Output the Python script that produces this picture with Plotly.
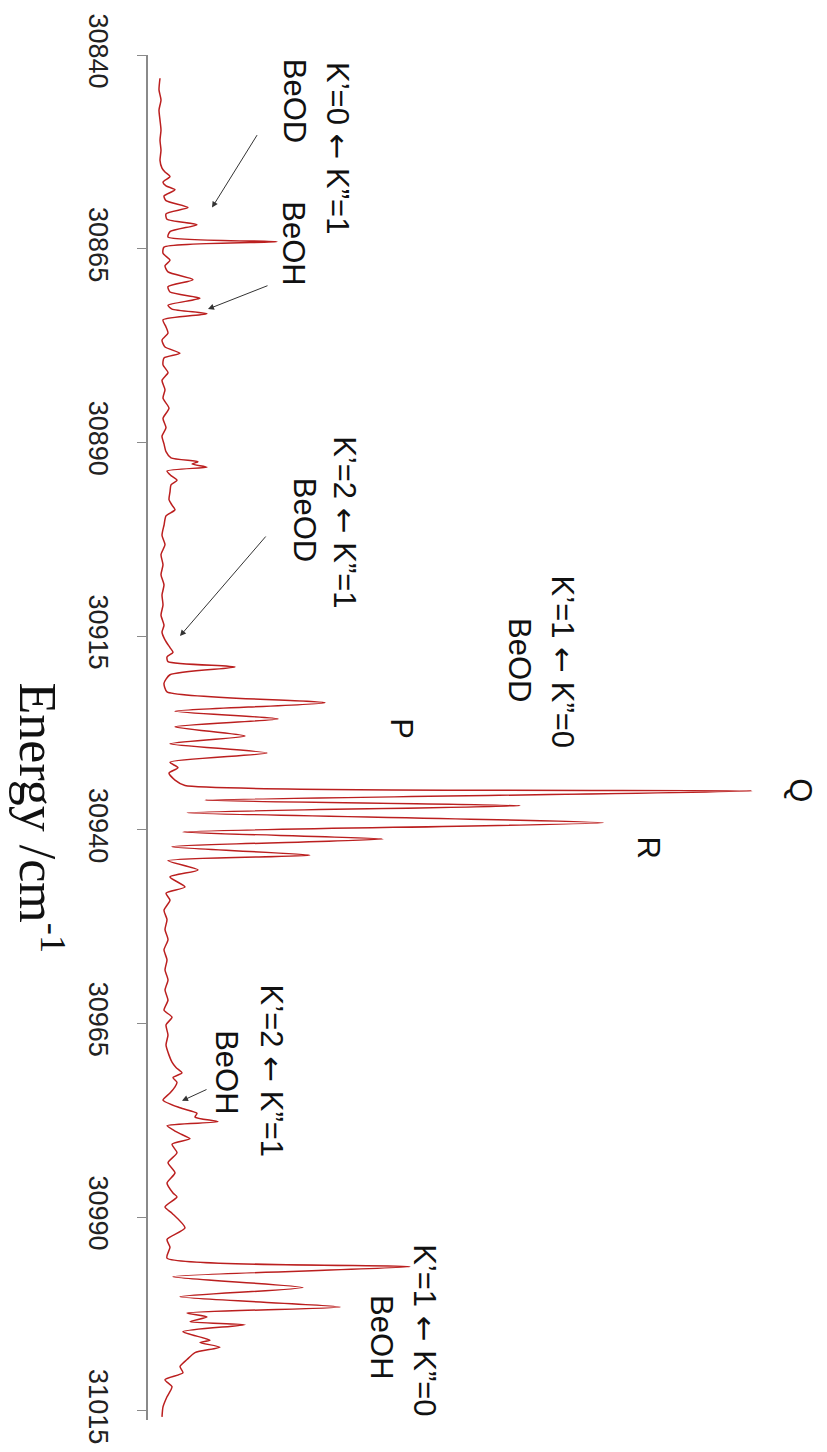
import plotly.graph_objects as go

# Energy (cm^-1) and intensity (arbitrary units)
energy = [
    30843.0, 30844.5, 30845.8, 30847.1, 30848.4, 30849.7, 30851.0, 30852.3, 30853.6, 30854.6,
    30855.1, 30855.7, 30856.4, 30856.9, 30857.4, 30858.2, 30858.8, 30859.7, 30860.5, 30861.2,
    30861.9, 30862.8, 30863.5, 30864.1, 30864.8, 30865.6, 30866.5, 30867.2, 30868.0, 30869.0,
    30869.9, 30870.6, 30871.4, 30872.3, 30872.8, 30873.4, 30874.2, 30875.1, 30875.9, 30876.8,
    30877.7, 30878.5, 30879.1, 30880.0, 30881.0, 30882.0, 30883.2, 30884.3, 30885.6, 30886.9,
    30888.1, 30889.2, 30890.2, 30891.2, 30892.0, 30892.5, 30892.8, 30893.2, 30893.7, 30894.3,
    30894.9, 30895.5, 30896.4, 30897.4, 30898.1, 30898.7, 30899.5, 30900.7, 30902.0, 30903.2,
    30904.5, 30905.8, 30907.1, 30908.4, 30909.7, 30911.0, 30912.3, 30913.6, 30914.5, 30915.5,
    30916.5, 30917.1, 30917.7, 30918.3, 30919.0, 30920.0, 30921.1, 30922.2, 30923.6, 30924.7,
    30925.7, 30926.7, 30927.9, 30928.9, 30930.1, 30931.3, 30932.0, 30932.7, 30933.6, 30934.3,
    30935.0, 30936.2, 30936.9, 30937.8, 30939.1, 30940.3, 30941.2, 30942.2, 30943.3, 30944.0,
    30945.2, 30946.1, 30947.4, 30948.2, 30949.1, 30950.4, 30951.6, 30952.9, 30954.2, 30955.5,
    30956.8, 30958.1, 30959.4, 30960.7, 30962.0, 30963.3, 30964.2, 30965.2, 30966.5, 30967.8,
    30969.1, 30970.0, 30970.7, 30971.4, 30972.0, 30972.6, 30973.2, 30974.0, 30974.9, 30975.9,
    30976.6, 30977.1, 30977.7, 30978.2, 30978.9, 30979.3, 30979.9, 30980.6, 30981.7, 30983.0,
    30984.3, 30985.6, 30986.9, 30987.4, 30988.7, 30989.5, 30991.4, 30992.9, 30993.9, 30995.3,
    30996.4, 30997.7, 30999.1, 31000.3, 31001.6, 31002.4, 31002.9, 31003.5, 31003.9, 31004.8,
    31005.9, 31006.2, 31006.8, 31007.5, 31008.4, 31009.3, 31010.1, 31011.0, 31011.9, 31013.2,
    31014.5, 31015.8,
]
intensity = [
    12, 11, 13, 11, 12, 13, 12, 13, 12, 14,
    17, 22, 15, 18, 27, 16, 18, 40, 18, 19,
    49, 22, 20, 129, 16, 15, 22, 17, 20, 45,
    20, 22, 52, 20, 24, 59, 15, 18, 20, 14,
    17, 32, 16, 15, 20, 14, 17, 15, 21, 15,
    18, 14, 16, 18, 23, 50, 44, 59, 19, 23,
    29, 23, 22, 21, 24, 27, 18, 16, 14, 17,
    13, 15, 13, 16, 14, 15, 13, 16, 14, 17,
    22, 25, 19, 20, 87, 22, 16, 19, 177, 27,
    130, 27, 97, 22, 119, 22, 30, 21, 27, 37,
    604, 57, 372, 39, 455, 35, 235, 24, 162, 20,
    50, 22, 37, 18, 22, 16, 19, 17, 20, 16,
    19, 17, 20, 17, 20, 16, 24, 18, 20, 18,
    21, 24, 28, 34, 25, 29, 27, 22, 15, 32,
    49, 47, 70, 19, 27, 33, 42, 24, 29, 20,
    27, 19, 25, 29, 17, 24, 37, 19, 22, 19,
    262, 25, 155, 32, 192, 39, 59, 42, 97, 35,
    62, 52, 72, 47, 39, 32, 35, 17, 24, 19,
    15, 14,
]

tick_vals = [30840, 30865, 30890, 30915, 30940, 30965, 30990, 31015]
tick_text = [str(v) for v in tick_vals]

ARROW = '<span style="font-family:DejaVu Sans">←</span>'

labels = [
    # text, x (intensity units), energy
    ("K’=0 " + ARROW + " K”=1", 190, 30852.0),
    ("BeOD", 146, 30845.9),
    ("BeOH", 146, 30864.3),
    ("K’=2 " + ARROW + " K”=1", 197, 30900.3),
    ("BeOD", 156, 30900.0),
    ("K’=1 " + ARROW + " K”=0", 415, 30918.3),
    ("BeOD", 372, 30918.1),
    ("P", 254, 30926.9),
    ("Q", 653, 30934.9),
    ("R", 500, 30942.3),
    ("K’=2 " + ARROW + " K”=1", 124, 30971.1),
    ("BeOH", 79, 30971.3),
    ("K’=1 " + ARROW + " K”=0", 277, 31004.6),
    ("BeOH", 234, 31005.5),
]

# arrows: head (intensity, energy), tail offset in pixels
arrows = [
    (64, 30859.7, 46, -74),
    (60, 30872.8, 61, -24),
    (32, 30915.0, 87, -101),
    (34, 30975.0, 26, -12),
]

fig = go.Figure()
fig.add_trace(go.Scatter(
    x=intensity, y=energy, mode="lines",
    line=dict(color="#bb1f1f", width=1.5, shape="spline", smoothing=0.6),
    hoverinfo="skip", showlegend=False,
))

annotations = []
for text, xv, ev in labels:
    annotations.append(dict(
        x=xv, y=ev, xref="x", yref="y", text=text, showarrow=False,
        textangle=90, xanchor="center", yanchor="middle",
        font=dict(family="Liberation Sans, Arial, sans-serif", size=31, color="#111111"),
    ))
for hx, he, axp, ayp in arrows:
    annotations.append(dict(
        x=hx, y=he, xref="x", yref="y", text="", showarrow=True,
        ax=axp, ay=ayp, arrowhead=2, arrowsize=1.2, arrowwidth=1,
        arrowcolor="#333333", standoff=0,
    ))
annotations.append(dict(
    x=-0.157, y=(1452 - 818 - 32) / 1365, xref="paper", yref="paper",
    text="Energy /cm<sup>-1</sup>", showarrow=False, textangle=90,
    xanchor="center", yanchor="middle",
    font=dict(family="Liberation Serif, Times New Roman, serif", size=52, color="#111111"),
))

fig.update_layout(
    width=827, height=1452,
    margin=dict(l=148, r=0, t=55, b=32),
    paper_bgcolor="white", plot_bgcolor="white",
    showlegend=False,
    annotations=annotations,
    xaxis=dict(visible=False, range=[0, 679], fixedrange=True),
    yaxis=dict(
        range=[31016.2, 30840], tickmode="array", tickvals=tick_vals, ticktext=tick_text,
        tickangle=90, ticks="outside", ticklen=9, tickwidth=1.2, tickcolor="#8a8a8a",
        showline=True, linecolor="#8a8a8a", linewidth=1.5, showgrid=False, zeroline=False,
        tickfont=dict(family="Liberation Sans, Arial, sans-serif", size=27, color="#222222"),
        ticklabelstandoff=16,
    ),
)

fig.write_html("out.html")
